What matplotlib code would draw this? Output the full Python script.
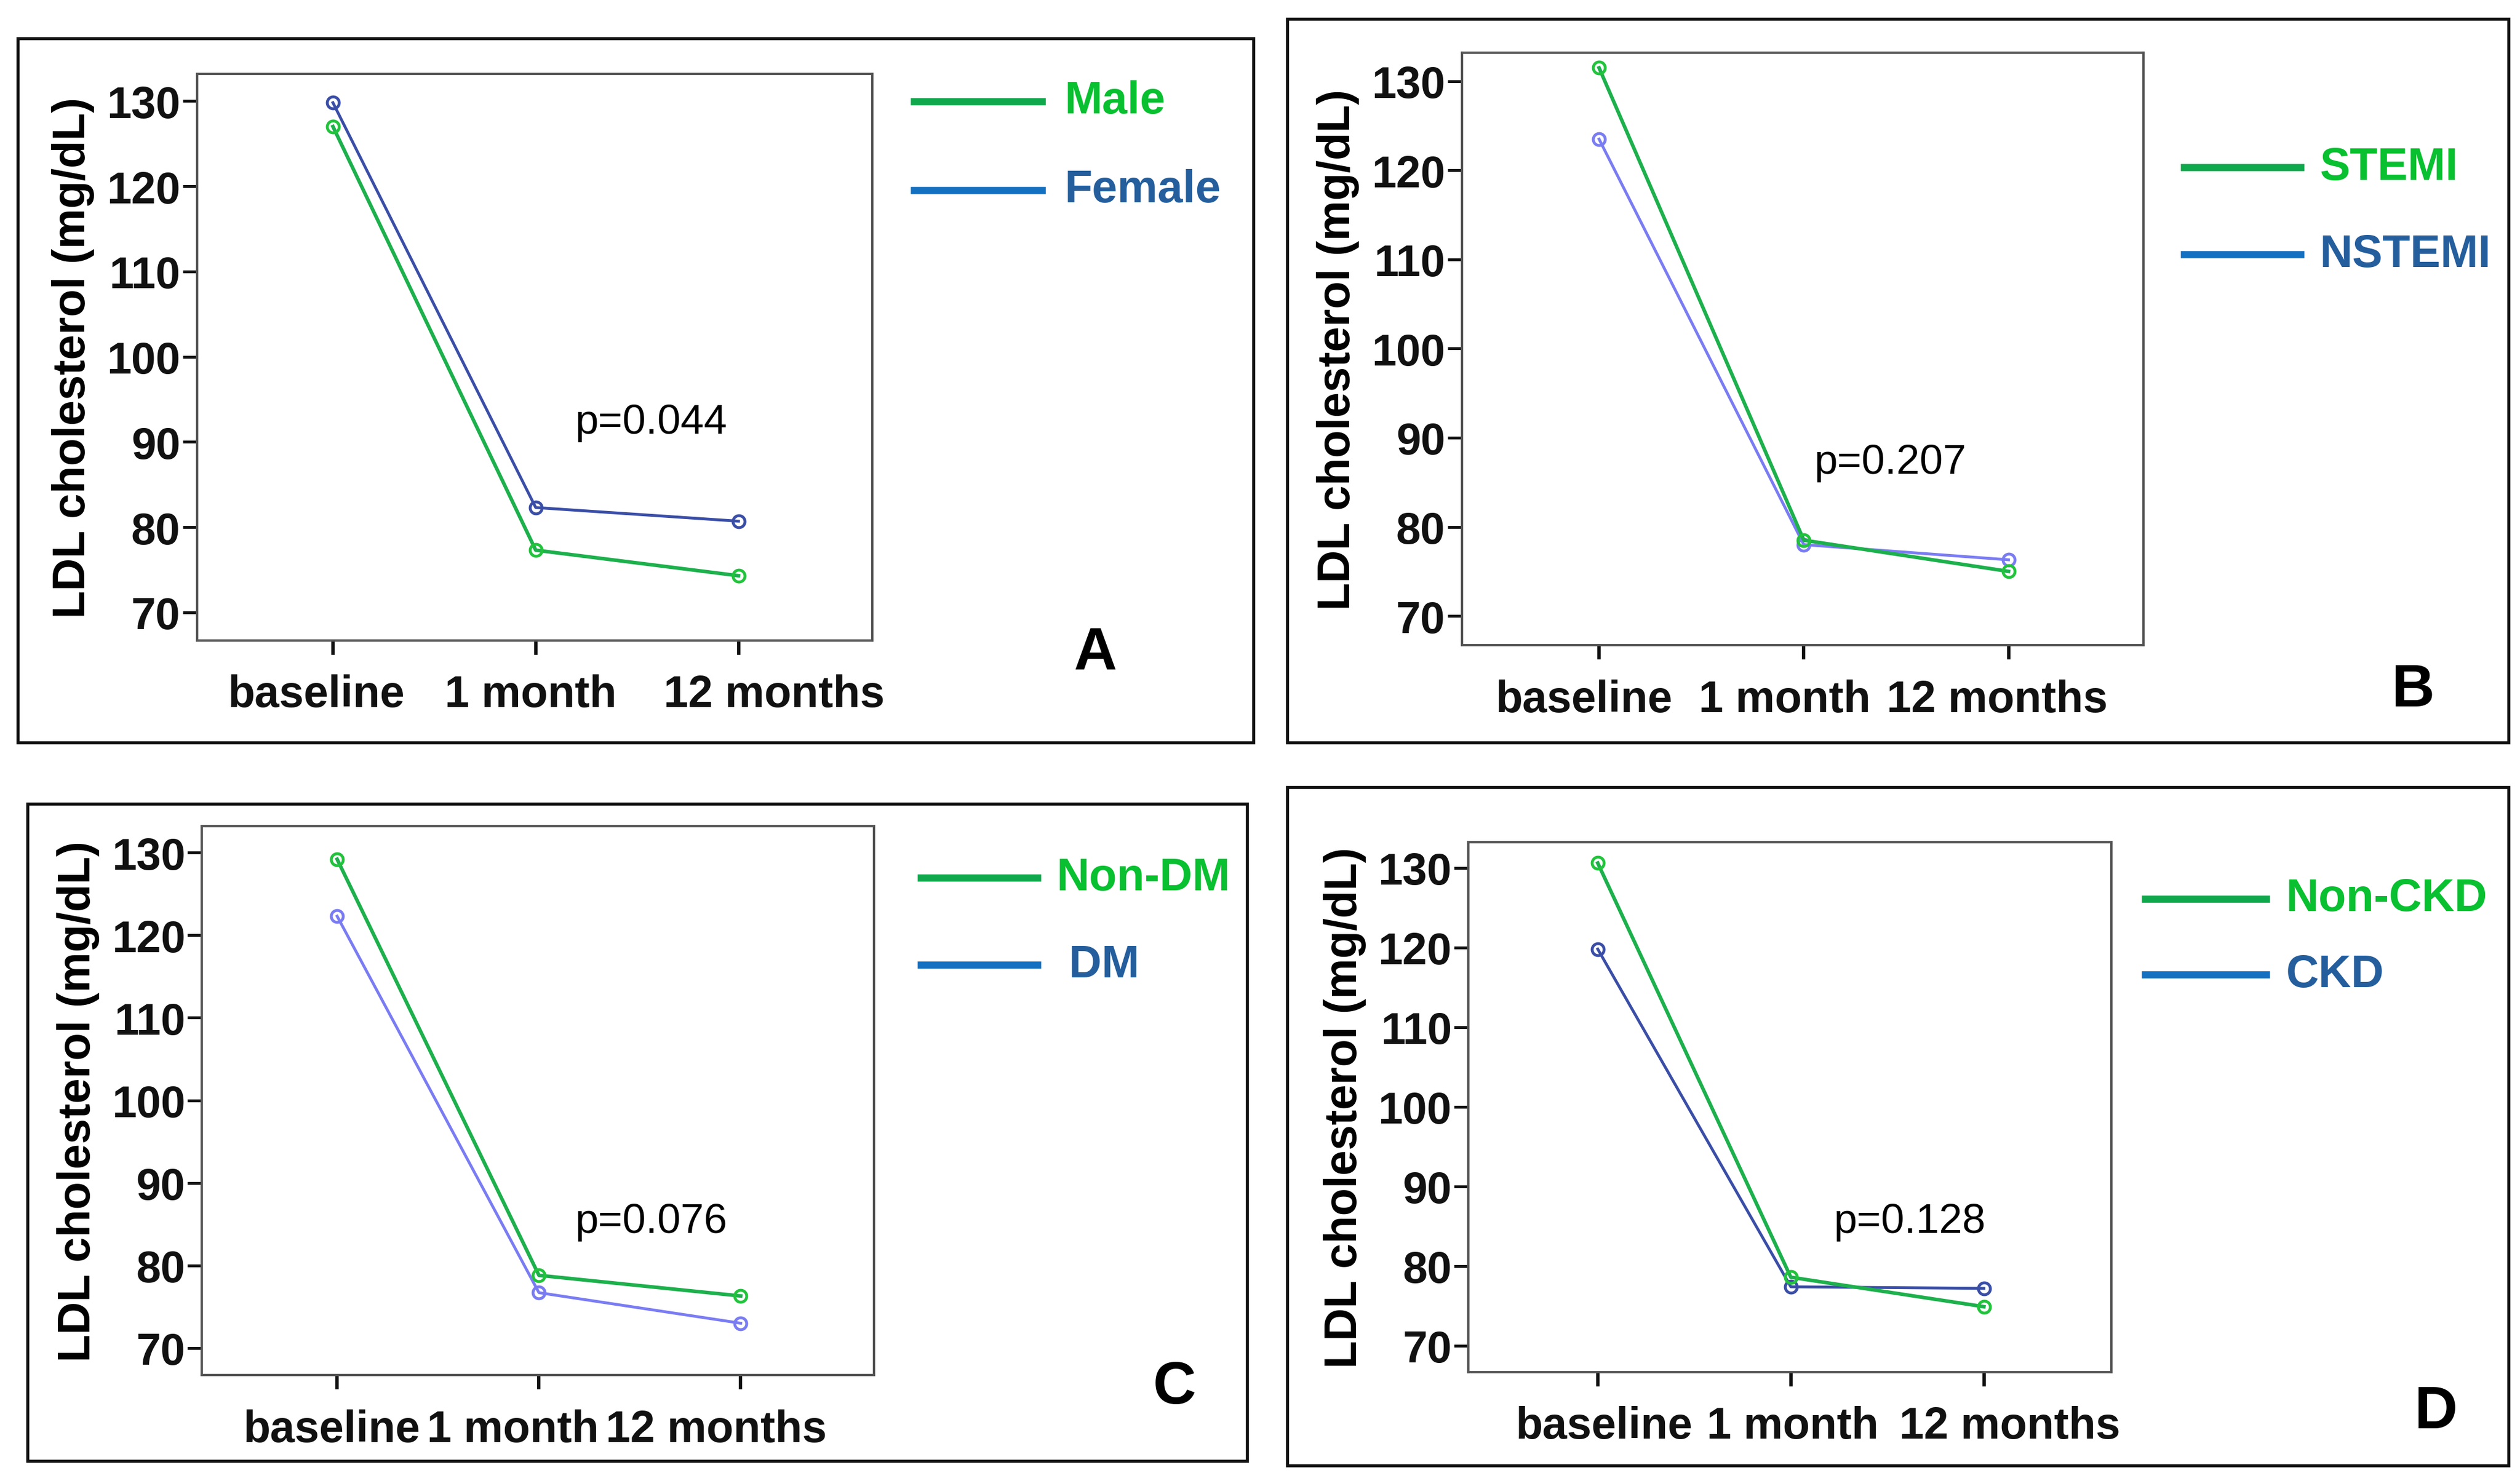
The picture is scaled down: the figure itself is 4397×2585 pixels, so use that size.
import matplotlib.pyplot as plt
from matplotlib.patches import Rectangle
from matplotlib.transforms import ScaledTranslation

# data
timepoints = ["baseline", "1 month", "12 months"]
yticks = [70, 80, 90, 100, 110, 120, 130]

male = [127.0, 77.3, 74.3]
female = [129.8, 82.3, 80.7]
stemi = [131.5, 78.5, 75.0]
nstemi = [123.5, 78.0, 76.3]
non_dm = [129.2, 78.8, 76.3]
dm = [122.3, 76.7, 73.0]
non_ckd = [130.6, 78.6, 74.9]
ckd = [119.8, 77.4, 77.2]

p_values = ["p=0.044", "p=0.207", "p=0.076", "p=0.128"]
group_names = [("Male", "Female"), ("STEMI", "NSTEMI"), ("Non-DM", " DM"), ("Non-CKD", "CKD")]
letters = ["A", "B", "C", "D"]

GREEN = "#1db04c"
GREEN_MK = "#22c33c"
DARKBLUE = "#3a4ea6"
LIGHTBLUE = "#7a7cf2"
LEG_GREEN = "#10a84c"
LEG_BLUE = "#1470c0"
LEG_TXT_G = "#08c030"
LEG_TXT_B = "#245e9c"

W, H = 1560.0, 917.5
fig = plt.figure(figsize=(4397 / 300, 2586 / 300), dpi=300)
plt.rcParams['font.family'] = ["Liberation Sans", "DejaVu Sans"]


def box(x0, y0, x1, y1):
    return [x0 / W, 1 - y1 / H, (x1 - x0) / W, (y1 - y0) / H]


# layout (display px): outer frame, axes, legend, p text, letter, x label shifts
panels = [
    dict(outer=(11, 24, 776, 460), ax=(122, 46, 540, 397), leg=(566, 645, 63, 118, 659, 659),
         p=(403, 262), let=(678, 405), data=(male, female), c2=DARKBLUE, shift=(-10, -3, 22)),
    dict(outer=(797, 12, 1553, 460), ax=(905, 33, 1327, 400), leg=(1352, 1424, 104, 158, 1436, 1436),
         p=(1170, 287), let=(1494, 428), data=(stemi, nstemi), c2=LIGHTBLUE, shift=(-9, -12, -7)),
    dict(outer=(17, 498, 772, 905), ax=(125, 512, 541, 852), leg=(570, 642, 544, 598, 654, 654),
         p=(403, 757), let=(727, 860), data=(non_dm, dm), c2=LIGHTBLUE, shift=(-3, -16, -15)),
    dict(outer=(797, 488, 1553, 908), ax=(909, 522, 1307, 850), leg=(1328, 1403, 557, 604, 1415, 1415),
         p=(1182, 757), let=(1508, 875), data=(non_ckd, ckd), c2=DARKBLUE, shift=(4, 1, 16)),
]

PX = 4397 / W / 300  # one display px in inches

for i, pn in enumerate(panels):
    x0, y0, x1, y1 = pn["outer"]
    fig.patches.append(Rectangle((x0 / W, 1 - y1 / H), (x1 - x0) / W, (y1 - y0) / H,
                                 transform=fig.transFigure, fill=False, lw=1.3, ec="#111111"))

    ax = fig.add_axes(box(*pn["ax"]))
    g, b = pn["data"]
    x = range(len(timepoints))
    ax.plot(x, g, color=GREEN, lw=1.5, marker="o", ms=5, mfc="none", mec=GREEN_MK, mew=1.2, zorder=3)
    ax.plot(x, b, color=pn["c2"], lw=1.2, marker="o", ms=5, mfc="none", mec=pn["c2"], mew=1.2, zorder=2)

    ax.set_xlim(-0.67, 2.66)
    ax.set_ylim(66.7, 133.2)
    ax.set_xticks(list(x))
    ax.set_xticklabels(timepoints, fontweight="bold", fontsize=18.5)
    ax.set_yticks(yticks)
    ax.set_yticklabels([str(v) for v in yticks], fontweight="bold", fontsize=18.5)
    ax.tick_params(axis="y", direction="out", length=6, width=1.2, pad=1, colors="#111111")
    ax.tick_params(axis="x", direction="out", length=6, width=1.4, pad=8, colors="#111111")
    for lab, dx in zip(ax.get_xticklabels(), pn["shift"]):
        lab.set_transform(lab.get_transform() + ScaledTranslation(dx * PX, 0, fig.dpi_scale_trans))
    for s in ax.spines.values():
        s.set_color("#555555")
        s.set_linewidth(1.0)
    ax.set_ylabel("LDL cholesterol (mg/dL)", fontweight="bold", fontsize=19, labelpad=5)

    lx0, lx1, ly1, ly2, tx1, tx2 = pn["leg"]
    n1, n2 = group_names[i]
    fig.add_artist(plt.Line2D([lx0 / W, lx1 / W], [1 - ly1 / H] * 2, color=LEG_GREEN, lw=3))
    fig.add_artist(plt.Line2D([lx0 / W, lx1 / W], [1 - ly2 / H] * 2, color=LEG_BLUE, lw=3))
    fig.text(tx1 / W, 1 - ly1 / H, n1, color=LEG_TXT_G, fontweight="bold",
             fontsize=19, va="center", ha="left")
    fig.text(tx2 / W, 1 - ly2 / H, n2, color=LEG_TXT_B, fontweight="bold",
             fontsize=19, va="center", ha="left")

    px, py = pn["p"]
    fig.text(px / W, 1 - py / H, p_values[i], fontsize=17.5, ha="center", va="center")
    lx, lyy = pn["let"]
    fig.text(lx / W, 1 - lyy / H, letters[i], fontweight="bold", fontsize=25,
             ha="center", va="center")

fig.savefig("out.png", dpi=300)
